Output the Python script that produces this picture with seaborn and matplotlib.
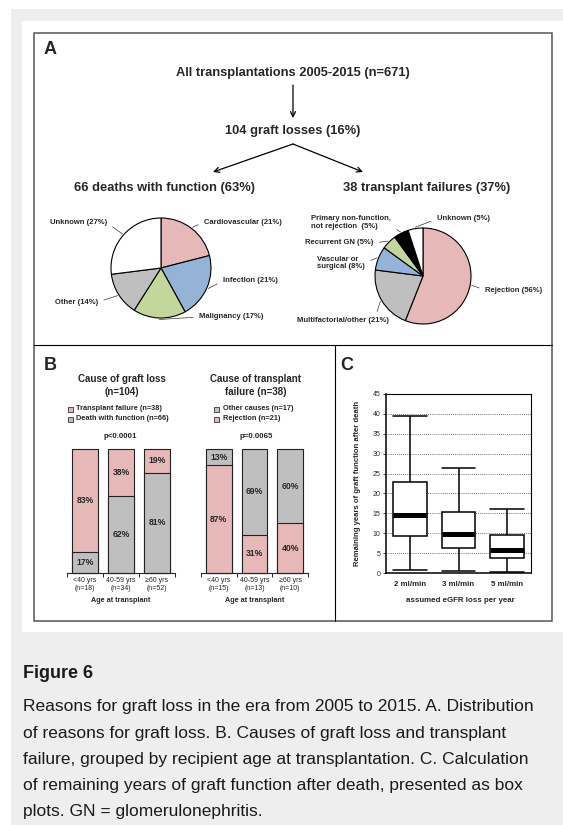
import numpy as np;
import pandas as pd;
import matplotlib;
matplotlib.use('Agg');
import matplotlib.pyplot as plt;
import seaborn as sns;
from matplotlib.patches import Rectangle;

# Panel A - pie charts
deathCauses = ['Cardiovascular', 'Infection', 'Malignancy', 'Other', 'Unknown'];
deathPct = [21, 21, 17, 14, 27];
failureCauses = ['Rejection', 'Multifactorial/other', 'Vascular or\nsurgical', 'Recurrent GN',
                 'Primary non-function,\nnot rejection ', 'Unknown'];
failurePct = [56, 21, 8, 5, 5, 5];

# Panel B - stacked bars (percent)
lossAgeGroups = ['<40 yrs\n(n=18)', '40-59 yrs\n(n=34)', '≥60 yrs\n(n=52)'];
lossFailurePct = [83, 38, 19];
lossDeathPct = [17, 62, 81];
failAgeGroups = ['<40 yrs\n(n=15)', '40-59 yrs\n(n=13)', '≥60 yrs\n(n=10)'];
failRejectionPct = [87, 31, 40];
failOtherPct = [13, 69, 60];

# Panel C - box plot five-number summaries (years)
egfrLoss = ['2 ml/min', '3 ml/min', '5 ml/min'];
yearsMin = [0.7, 0.5, 0.3];
yearsQ1 = [9.2, 6.3, 3.8];
yearsMedian = [14.5, 9.8, 5.8];
yearsQ3 = [23.0, 15.4, 9.5];
yearsMax = [39.5, 26.5, 16.0];

captionLines = [
    'Reasons for graft loss in the era from 2005 to 2015. A. Distribution',
    'of reasons for graft loss. B. Causes of graft loss and transplant',
    'failure, grouped by recipient age at transplantation. C. Calculation',
    'of remaining years of graft function after death, presented as box',
    'plots. GN = glomerulonephritis.',
];

pink = '#e6b8b7';
blue = '#95b3d7';
green = '#c3d69b';
grey = '#bfbfbf';
edge = '#333333';

sns.set_style('white');
plt.rcParams['font.family'] = ['Liberation Sans', 'DejaVu Sans'];
plt.rcParams['axes.linewidth'] = 0.8;

W, H = 563, 825;
def box(x, y, w, h):
    return [x / W, 1 - (y + h) / H, w / W, h / H];

fig = plt.figure(figsize=(W / 100, H / 100), dpi=100);

# background, card and frame in pixel coordinates
bg = fig.add_axes([0, 0, 1, 1]);
bg.set_xlim(0, W);
bg.set_ylim(H, 0);
bg.axis('off');
bg.add_patch(Rectangle((11, 9), W - 11, H - 9, fc='#eeeeee', ec='none'));
bg.add_patch(Rectangle((22, 21), W - 22, 632 - 21, fc='white', ec='none'));
bg.add_patch(Rectangle((34, 33), 552 - 34, 621 - 33, fc='none', ec='#555555', lw=1.1));
bg.plot([34, 552], [345, 345], color='black', lw=0.8);
bg.plot([335, 335], [345, 621], color='black', lw=0.8);

bg.text(50, 50, 'A', fontsize=13, weight='bold', ha='center', va='center');
bg.text(50, 365, 'B', fontsize=13, weight='bold', ha='center', va='center');
bg.text(347, 365, 'C', fontsize=13, weight='bold', ha='center', va='center');

# flow chart
flowKw = dict(fontsize=9.3, weight='bold', ha='center', va='center');
arrowKw = dict(arrowstyle='->', lw=0.9, color='black', shrinkA=0, shrinkB=0, mutation_scale=9);
bg.text(293, 73, 'All transplantations 2005-2015 (n=671)', **flowKw);
bg.annotate('', xy=(293, 118), xytext=(293, 85), arrowprops=arrowKw);
bg.text(293, 131, '104 graft losses (16%)', **flowKw);
bg.annotate('', xy=(213, 172), xytext=(293, 144), arrowprops=arrowKw);
bg.annotate('', xy=(363, 172), xytext=(293, 144), arrowprops=arrowKw);
bg.text(165, 188, '66 deaths with function (63%)', **flowKw);
bg.text(427, 188, '38 transplant failures (37%)', **flowKw);

# pies
def drawPie(rect, values, names, colors, labelPos):
    ax = fig.add_axes(rect);
    wedges, _ = ax.pie(values, colors=colors, startangle=90, counterclock=False,
                       wedgeprops=dict(edgecolor='black', linewidth=0.8));
    ax.set_xlim(-1.25, 1.25);
    ax.set_ylim(-1.25, 1.25);
    for w, name, val, (tx, ty, ha, rp) in zip(wedges, names, values, labelPos):
        ang = np.deg2rad((w.theta1 + w.theta2) / 2);
        ax.annotate(f'{name} ({val}%)', xy=(1.03 * np.cos(ang), 1.03 * np.sin(ang)),
                    xytext=(tx, ty), textcoords=bg.transData, ha=ha, va='center',
                    fontsize=5.5, weight='bold', linespacing=1.1,
                    arrowprops=dict(arrowstyle='-', color=edge, lw=0.5,
                                    shrinkA=2, shrinkB=0, relpos=rp));
    return ax;

deathLabelPos = [(204, 222, 'left', (0, 0.5)), (223, 281, 'left', (0, 0.5)),
                 (199, 317, 'left', (0, 0.5)), (98, 302, 'right', (1, 0.5)),
                 (107, 223, 'right', (1, 0.5))];
failureLabelPos = [(485, 290, 'left', (0, 0.5)), (343, 321, 'center', (0.85, 1)),
                   (317, 263, 'left', (1, 0.5)), (305, 243, 'left', (1, 0.5)),
                   (311, 222.5, 'left', (1, 0.25)), (437, 219, 'left', (0, 0.5))];
drawPie(box(161 - 62.5, 268 - 62.5, 125, 125), deathPct, deathCauses,
        [pink, blue, green, grey, 'white'], deathLabelPos);
drawPie(box(423 - 60, 276 - 60, 120, 120), failurePct, failureCauses,
        [pink, grey, blue, green, 'black', 'white'], failureLabelPos);

# stacked bars
def stackedBars(rect, groups, bottomVals, topVals, bottomColor, topColor):
    ax = fig.add_axes(rect);
    df = pd.DataFrame({'age': groups, 'bottom': bottomVals, 'top': topVals});
    df['total'] = df['bottom'] + df['top'];
    barKw = dict(x='age', width=0.72, saturation=1, edgecolor='#222222', linewidth=0.8,
                 errorbar=None, ax=ax);
    sns.barplot(data=df, y='total', color=topColor, **barKw);
    sns.barplot(data=df, y='bottom', color=bottomColor, **barKw);
    for p in ax.patches:
        p.set_clip_on(False);
    for i, row in df.iterrows():
        ax.text(i, row['bottom'] / 2, f"{row['bottom']}%", ha='center', va='center',
                fontsize=6.2, weight='bold');
        ax.text(i, row['bottom'] + row['top'] / 2, f"{row['top']}%", ha='center',
                va='center', fontsize=6.2, weight='bold');
    ax.set_xlim(-0.5, 2.5);
    ax.set_ylim(0, 100);
    ax.set_yticks([]);
    ax.set_ylabel('');
    sns.despine(ax=ax, left=True);
    ax.set_xticks([-0.5, 0.5, 1.5, 2.5], minor=True);
    ax.tick_params(axis='x', which='major', length=0, labelsize=5, pad=3);
    ax.tick_params(axis='x', which='minor', length=3, width=0.7, direction='out', bottom=True);
    ax.set_xlabel('Age at transplant', fontsize=5.2, weight='bold');
    ax.xaxis.set_label_coords(0.5, -0.225);
    ax.xaxis.label.set_va('center');
    return ax;

stackedBars(box(67, 449, 108, 124), lossAgeGroups, lossDeathPct, lossFailurePct, grey, pink);
stackedBars(box(201, 449, 107, 124), failAgeGroups, failRejectionPct, failOtherPct, pink, grey);

bg.text(122, 385.5, 'Cause of graft loss\n(n=104)', fontsize=7, weight='bold',
        ha='center', va='center', linespacing=1.35);
bg.text(256, 385.5, 'Cause of transplant\nfailure (n=38)', fontsize=7, weight='bold',
        ha='center', va='center', linespacing=1.35);
legendItems = [(67.5, 409, pink, 'Transplant failure (n=38)'),
               (67.5, 419, grey, 'Death with function (n=66)'),
               (214, 409, grey, 'Other causes (n=17)'),
               (214, 419, pink, 'Rejection (n=21)')];
for lx, ly, lc, lt in legendItems:
    bg.add_patch(Rectangle((lx, ly - 2.5), 5, 5, fc=lc, ec=edge, lw=0.6));
    bg.text(lx + 9, ly, lt, fontsize=5.3, weight='bold', va='center');
bg.text(120, 436, 'p<0.0001', fontsize=5.7, weight='bold', ha='center', va='center');
bg.text(256, 436, 'p=0.0065', fontsize=5.7, weight='bold', ha='center', va='center');

# box plots
rows = [];
for i, g in enumerate(egfrLoss):
    for v in (yearsMin[i], yearsQ1[i], yearsMedian[i], yearsQ3[i], yearsMax[i]):
        rows.append((g, v));
boxDf = pd.DataFrame(rows, columns=['loss', 'years']);

axC = fig.add_axes(box(386, 394, 145, 179));
axC.set_axisbelow(True);
axC.yaxis.grid(True, linestyle=(0, (1, 1.5)), color='#444444', lw=0.6);
sns.boxplot(data=boxDf, x='loss', y='years', whis=(0, 100), width=0.7, color='white',
            linecolor='black', linewidth=1.1, fliersize=0, medianprops={'linewidth': 3.6},
            capwidths=0.7, ax=axC);
axC.set_xlim(-0.5, 2.5);
axC.set_ylim(0, 45);
axC.set_yticks(range(0, 50, 5));
for s in axC.spines.values():
    s.set_visible(True);
    s.set_color('black');
    s.set_linewidth(0.8);
axC.spines['left'].set_linewidth(1.1);
axC.spines['bottom'].set_linewidth(1.1);
axC.tick_params(axis='y', left=True, length=2, width=0.6, labelsize=5, pad=2);
axC.tick_params(axis='x', length=0, labelsize=5.7, pad=6);
for t in axC.get_xticklabels():
    t.set_weight('bold');
axC.set_ylabel('Remaining years of graft function after death', fontsize=5.6, weight='bold');
axC.yaxis.set_label_coords(-0.172, 0.5);
axC.set_xlabel('assumed eGFR loss per year', fontsize=5.7, weight='bold');
axC.xaxis.set_label_coords(0.51, -0.156);
axC.xaxis.label.set_va('center');

# caption
bg.text(23, 673, 'Figure 6', fontsize=13, weight='bold', va='center', color='#1a1a1a');
for k, line in enumerate(captionLines):
    bg.text(23, 707 + k * 26.2, line, fontsize=12.5, va='center', color='#1a1a1a');

fig.savefig('out.png', dpi=100);
